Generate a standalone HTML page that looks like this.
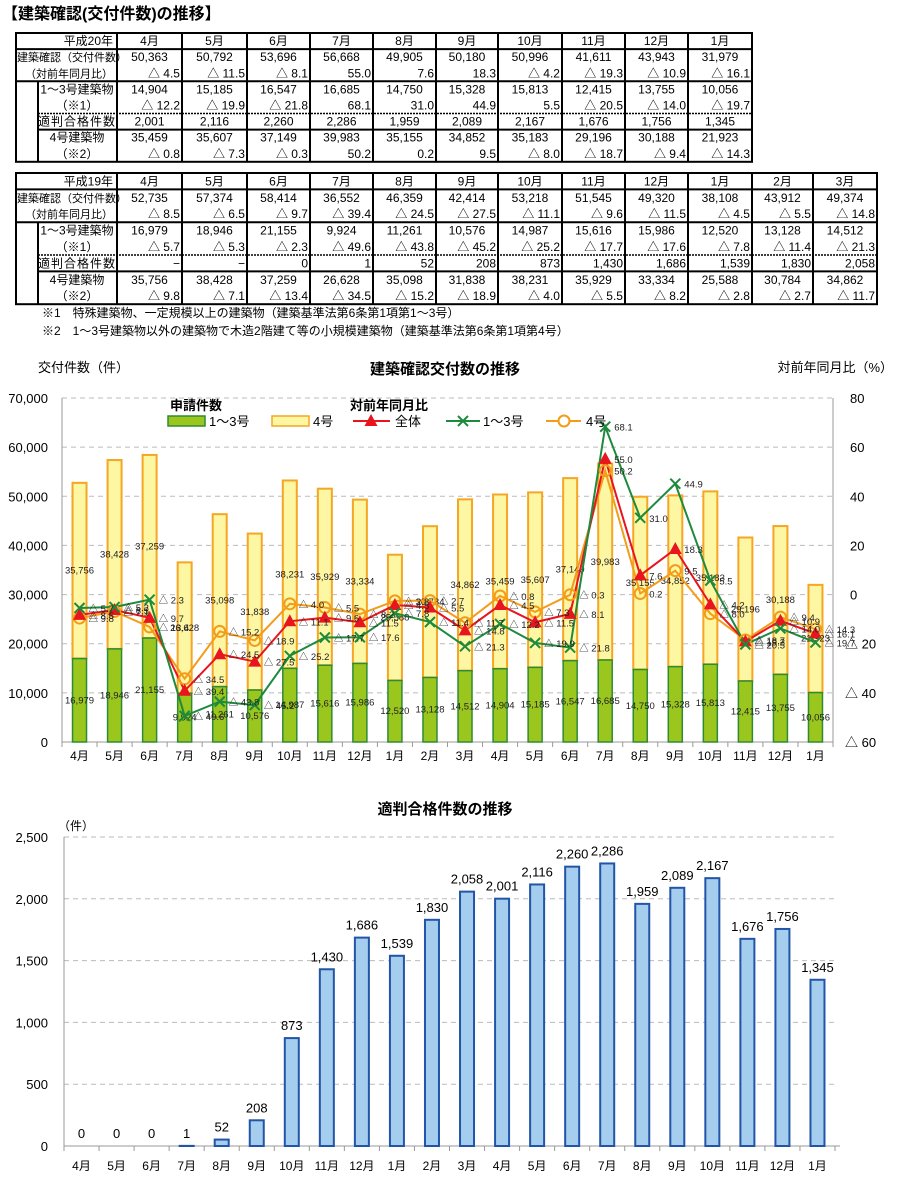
<!DOCTYPE html>
<html><head><meta charset="utf-8">
<style>
html,body{margin:0;padding:0;background:#fff;}
svg{display:block;font-family:"Liberation Sans","Noto Sans CJK JP",sans-serif;}
</style></head>
<body>
<svg id="s" width="900" height="1177" viewBox="0 0 900 1177" xmlns="http://www.w3.org/2000/svg"></svg>
<script>
const S=document.getElementById('s');let H='';
function t(x,y,s,o){o=o||{};H+=`<text x="${x}" y="${y}" font-size="${o.fs||11}" text-anchor="${o.a||'start'}" fill="${o.c||'#000'}" ${o.b?'font-weight="bold"':''} ${o.ex||''}>${s}</text>`;}
function l(x1,y1,x2,y2,c,w,ex){H+=`<line x1="${x1}" y1="${y1}" x2="${x2}" y2="${y2}" stroke="${c}" stroke-width="${w}" ${ex||''}/>`;}
t(2,19,'【建築確認(交付件数)の推移】',{fs:16,b:1});
const cols=[117,182,247,310,373,436,498,562,625,688,752,813,877];
function table(top,rh,n,hdr,rows,r5right){
 const right=cols[n],bot=top+rh*8;
 const rowy=i=>top+rh*i;
 t(113,rowy(1)-4,hdr[0],{fs:12,a:'end'});
 for(let j=0;j<n;j++){t((cols[j]+cols[j+1])/2,rowy(1)-4,hdr[j+1],{fs:12,a:'middle'});}
 const labs=[['建築確認（交付件数）',17,'start',11],['（対前年同月比）',113,'end',11],['1～3号建築物',77,'middle',12],['（※1）',77,'middle',12],['適判合格件数',77,'middle',12],['4号建築物',77,'middle',12],['（※2）',77,'middle',12]];
 labs.forEach((L,i)=>t(L[1],rowy(i+2)-4,L[0],{fs:L[3],a:L[2],ex:i==4?'letter-spacing="1"':''}));
 rows.forEach((r,i)=>{r.forEach((v,j)=>{
   const ra=(i==1||i==3||i==6||(i==4&&r5right));
   if(ra)t(cols[j+1]-2,rowy(i+2)-4,v,{fs:12,a:'end'});
   else t((cols[j]+cols[j+1])/2,rowy(i+2)-4,v,{fs:12,a:'middle'});
 });});
 H+=`<rect x="16" y="${top}" width="${right-16}" height="${bot-top}" fill="none" stroke="#000" stroke-width="2"/>`;
 l(16,rowy(1),right,rowy(1),'#000',2);
 l(16,rowy(3),right,rowy(3),'#000',2);
 l(38,rowy(5),right,rowy(5),'#000',1.5,'stroke-dasharray="2,1"');
 l(38,rowy(6),right,rowy(6),'#000',2);
 l(38,rowy(3),38,bot,'#000',2);
 for(let j=0;j<n;j++)l(cols[j],top,cols[j],bot,'#000',2);
}
table(33,16.1,10,['平成20年','4月','5月','6月','7月','8月','9月','10月','11月','12月','1月'],[
'50,363 50,792 53,696 56,668 49,905 50,180 50,996 41,611 43,943 31,979'.split(' '),
['△ 4.5','△ 11.5','△ 8.1','55.0','7.6','18.3','△ 4.2','△ 19.3','△ 10.9','△ 16.1'],
'14,904 15,185 16,547 16,685 14,750 15,328 15,813 12,415 13,755 10,056'.split(' '),
['△ 12.2','△ 19.9','△ 21.8','68.1','31.0','44.9','5.5','△ 20.5','△ 14.0','△ 19.7'],
'2,001 2,116 2,260 2,286 1,959 2,089 2,167 1,676 1,756 1,345'.split(' '),
'35,459 35,607 37,149 39,983 35,155 34,852 35,183 29,196 30,188 21,923'.split(' '),
['△ 0.8','△ 7.3','△ 0.3','50.2','0.2','9.5','△ 8.0','△ 18.7','△ 9.4','△ 14.3']],false);
table(173,16.4,12,['平成19年','4月','5月','6月','7月','8月','9月','10月','11月','12月','1月','2月','3月'],[
'52,735 57,374 58,414 36,552 46,359 42,414 53,218 51,545 49,320 38,108 43,912 49,374'.split(' '),
['△ 8.5','△ 6.5','△ 9.7','△ 39.4','△ 24.5','△ 27.5','△ 11.1','△ 9.6','△ 11.5','△ 4.5','△ 5.5','△ 14.8'],
'16,979 18,946 21,155 9,924 11,261 10,576 14,987 15,616 15,986 12,520 13,128 14,512'.split(' '),
['△ 5.7','△ 5.3','△ 2.3','△ 49.6','△ 43.8','△ 45.2','△ 25.2','△ 17.7','△ 17.6','△ 7.8','△ 11.4','△ 21.3'],
'− − 0 1 52 208 873 1,430 1,686 1,539 1,830 2,058'.split(' '),
'35,756 38,428 37,259 26,628 35,098 31,838 38,231 35,929 33,334 25,588 30,784 34,862'.split(' '),
['△ 9.8','△ 7.1','△ 13.4','△ 34.5','△ 15.2','△ 18.9','△ 4.0','△ 5.5','△ 8.2','△ 2.8','△ 2.7','△ 11.7']],true);
t(42,317,'※1　特殊建築物、一定規模以上の建築物（建築基準法第6条第1項第1～3号）',{fs:12});
t(42,335,'※2　1～3号建築物以外の建築物で木造2階建て等の小規模建築物（建築基準法第6条第1項第4号）',{fs:12});

const M=['4月','5月','6月','7月','8月','9月','10月','11月','12月','1月','2月','3月','4月','5月','6月','7月','8月','9月','10月','11月','12月','1月'];
const g13=[16979,18946,21155,9924,11261,10576,14987,15616,15986,12520,13128,14512,14904,15185,16547,16685,14750,15328,15813,12415,13755,10056];
const g4=[35756,38428,37259,26628,35098,31838,38231,35929,33334,25588,30784,34862,35459,35607,37149,39983,35155,34852,35183,29196,30188,21923];
const rA=[-8.5,-6.5,-9.7,-39.4,-24.5,-27.5,-11.1,-9.6,-11.5,-4.5,-5.5,-14.8,-4.5,-11.5,-8.1,55.0,7.6,18.3,-4.2,-19.3,-10.9,-16.1];
const r13=[-5.7,-5.3,-2.3,-49.6,-43.8,-45.2,-25.2,-17.7,-17.6,-7.8,-11.4,-21.3,-12.2,-19.9,-21.8,68.1,31.0,44.9,5.5,-20.5,-14.0,-19.7];
const r4=[-9.8,-7.1,-13.4,-34.5,-15.2,-18.9,-4.0,-5.5,-8.2,-2.8,-2.7,-11.7,-0.8,-7.3,-0.3,50.2,0.2,9.5,-8.0,-18.7,-9.4,-14.3];
const X0=62,X1=833,W=(X1-X0)/22,cx=i=>X0+W*(i+0.5);
const yL=v=>742-v*344/70000,yR=p=>594-p*344/140;
const fmt=v=>v.toLocaleString('en-US');
const fr=v=>v<0?'△ '+(-v).toFixed(1):v.toFixed(1);
t(38,372,'交付件数（件）',{fs:13});
t(445,374,'建築確認交付数の推移',{fs:15,a:'middle',b:1});
t(893,372,'対前年同月比（%）',{fs:13,a:'end'});
for(let k=0;k<=7;k++){const y=yL(k*10000);
 if(k>0)l(X0,y,X1,y,'#bbb',1,'stroke-dasharray="5,4"');
 t(48,y+5,fmt(k*10000),{fs:13,a:'end'});
 const p=-60+k*20;t(p<0?845:850,y+5,p<0?'△ '+(-p):p,{fs:13});}
l(X0,398,X0,742,'#999',1);l(X0,742,X1,742,'#999',1);l(X1,398,X1,742,'#999',1);
for(let i=0;i<=22;i++)l(X0+W*i,742,X0+W*i,747,'#999',1);
for(let i=0;i<22;i++){
 const x=cx(i)-7,ya=yL(g13[i]),yb=yL(g13[i]+g4[i]);
 H+=`<rect x="${x}" y="${yb}" width="14" height="${ya-yb}" fill="#fdf6a3" stroke="#f5a623" stroke-width="2"/>`;
 H+=`<rect x="${x}" y="${ya}" width="14" height="${742-ya}" fill="#9bc61e" stroke="#2e8b34" stroke-width="1.5"/>`;
 t(cx(i),(ya+yb)/2+3,fmt(g4[i]),{fs:9.5,a:'middle',c:'#222'});
 t(cx(i),(ya+742)/2+3,fmt(g13[i]),{fs:9.5,a:'middle',c:'#222'});
 t(cx(i),760,M[i],{fs:12,a:'middle'});
}
function poly(arr,c){H+=`<polyline fill="none" stroke="${c}" stroke-width="2" points="${arr.map((v,i)=>cx(i)+','+yR(v)).join(' ')}"/>`;}
poly(r4,'#f39c1a');poly(rA,'#e8141e');poly(r13,'#1e8a3c');
for(let i=0;i<22;i++){
 let x=cx(i),y;
 y=yR(r4[i]);H+=`<circle cx="${x}" cy="${y}" r="5.5" fill="none" stroke="#f39c1a" stroke-width="2"/>`;
 y=yR(rA[i]);H+=`<polygon points="${x},${y-7} ${x-6.5},${y+5} ${x+6.5},${y+5}" fill="#e8141e"/>`;
 y=yR(r13[i]);H+=`<path d="M${x-5} ${y-5}L${x+5} ${y+5}M${x-5} ${y+5}L${x+5} ${y-5}" stroke="#1e8a3c" stroke-width="2"/>`;
}
for(let i=0;i<22;i++){const x=cx(i)+9;
 t(x,yR(rA[i])+4,fr(rA[i]),{fs:9.5,c:'#222'});
 t(x,yR(r13[i])+4,fr(r13[i]),{fs:9.5,c:'#222'});
 t(x,yR(r4[i])+4,fr(r4[i]),{fs:9.5,c:'#222'});
}
t(170,410,'申請件数',{fs:13,b:1});t(350,410,'対前年同月比',{fs:13,b:1});
H+=`<rect x="168" y="416" width="37" height="10" fill="#9bc61e" stroke="#2e8b34" stroke-width="1.5"/>`;
t(209,426,'1～3号',{fs:13});
H+=`<rect x="272" y="416" width="37" height="10" fill="#fdf6a3" stroke="#f5a623" stroke-width="1.5"/>`;
t(313,426,'4号',{fs:13});
l(353,421,390,421,'#e8141e',2);H+=`<polygon points="371,414 364.5,426 377.5,426" fill="#e8141e"/>`;t(395,426,'全体',{fs:13});
l(446,421,480,421,'#1e8a3c',2);H+=`<path d="M458 416L468 426M458 426L468 416" stroke="#1e8a3c" stroke-width="2"/>`;t(483,426,'1～3号',{fs:13});
l(546,421,581,421,'#f39c1a',2);H+=`<circle cx="564" cy="421" r="5.5" fill="#fff" stroke="#f39c1a" stroke-width="2"/>`;t(586,426,'4号',{fs:13});

const tk=[0,0,0,1,52,208,873,1430,1686,1539,1830,2058,2001,2116,2260,2286,1959,2089,2167,1676,1756,1345];
const B0=64,B1=835,BW=(B1-B0)/22,bx=i=>B0+BW*(i+0.5),y2=v=>1146-v*309/2500;
t(445,814,'適判合格件数の推移',{fs:15,a:'middle',b:1});
t(58,830,'（件）',{fs:12});
for(let k=0;k<=5;k++){const y=y2(k*500);
 if(k>0)l(B0,y,B1,y,'#bbb',1,'stroke-dasharray="5,4"');
 t(48,y+5,fmt(k*500),{fs:13,a:'end'});}
l(B0,837,B0,1146,'#999',1);l(B0,1146,B1+5,1146,'#999',1);
for(let i=0;i<=22;i++)l(B0+BW*i,1146,B0+BW*i,1151,'#999',1);
for(let i=0;i<22;i++){const x=bx(i),y=y2(tk[i]);
 if(tk[i]>0)H+=`<rect x="${x-7}" y="${y}" width="14" height="${1146-y}" fill="#a4cdee" stroke="#2255a8" stroke-width="2"/>`;
 t(x,y-8,fmt(tk[i]),{fs:13,a:'middle'});
 t(x,1170,M[i],{fs:12,a:'middle'});
}
S.innerHTML=H;
</script>
</body></html>
